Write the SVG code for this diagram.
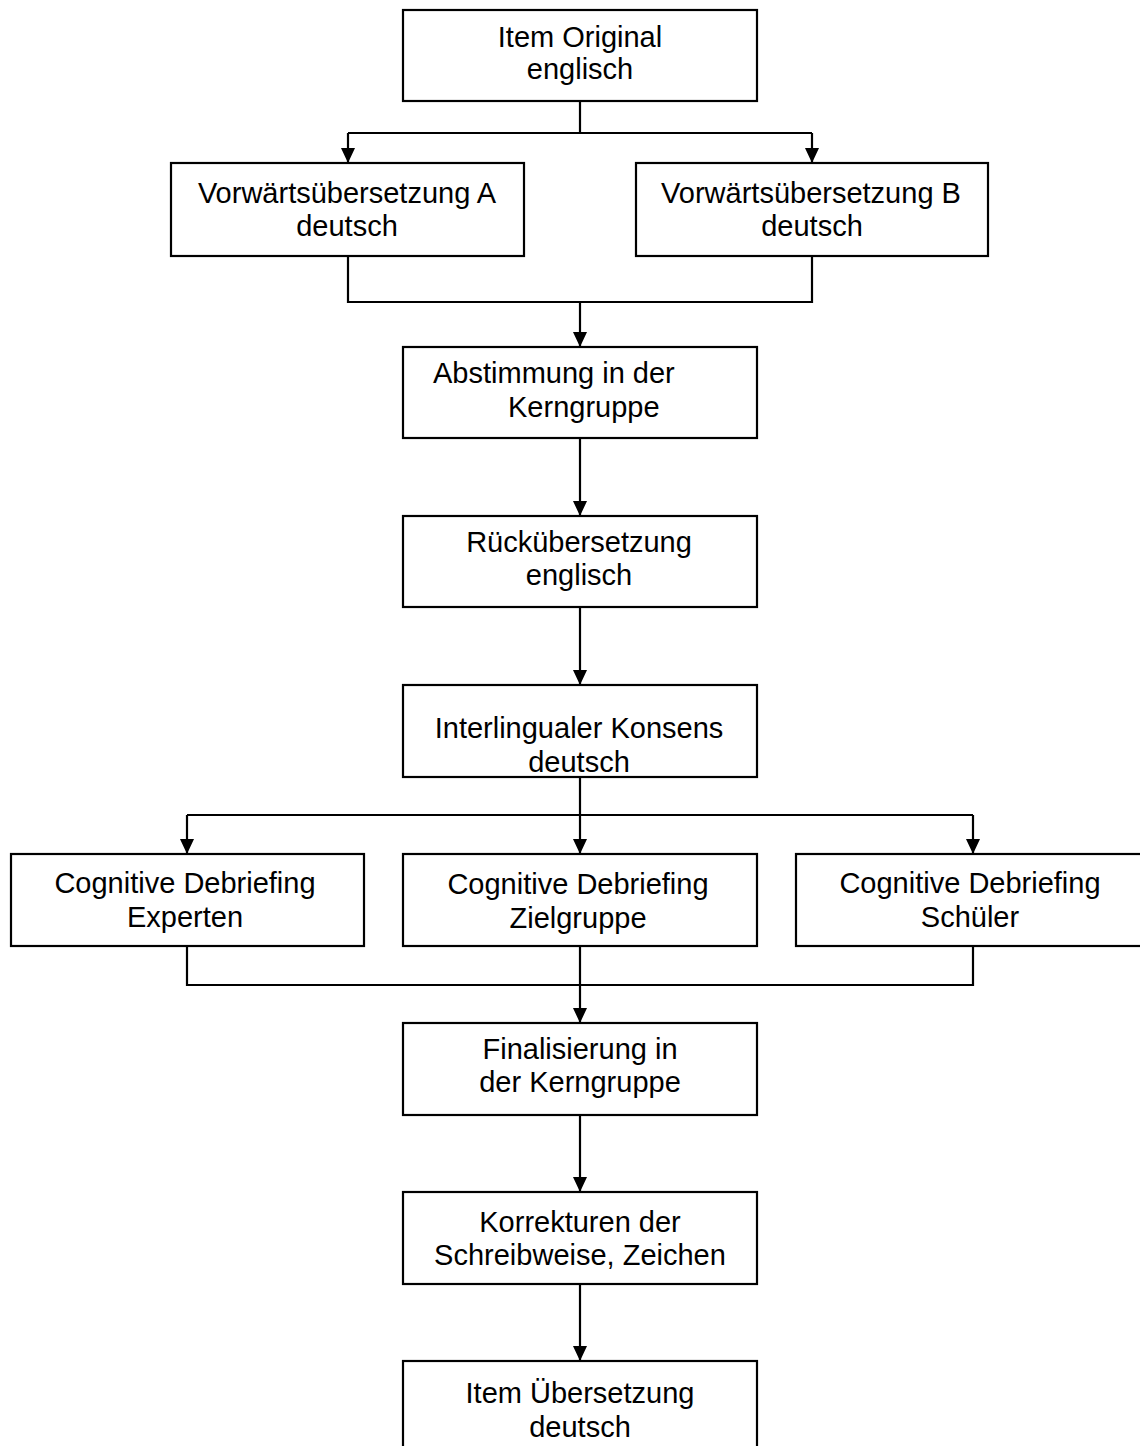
<svg xmlns="http://www.w3.org/2000/svg" width="1140" height="1446" viewBox="0 0 1140 1446">
<style>
.box{fill:#fff;stroke:#000;stroke-width:2.2}
.t{font-family:"Liberation Sans",Arial,sans-serif;font-size:29px;fill:#000;text-anchor:middle}
.ts{text-anchor:start}
.c{fill:none;stroke:#000;stroke-width:2.2}
.a{marker-end:url(#arr)}
</style>
<defs>
<marker id="arr" markerUnits="userSpaceOnUse" markerWidth="16" markerHeight="16" refX="15" refY="7" orient="auto">
<path d="M0,0 L15,7 L0,14 z" fill="#000"/>
</marker>
</defs>
<rect width="1140" height="1446" fill="#fff"/>
<g id="connectors">
<path class="c" d="M580,101 V133 M348,133 H812"/>
<path class="c a" d="M348,133 V163"/>
<path class="c a" d="M812,133 V163"/>
<path class="c" d="M348,256 V302 H812 V256"/>
<path class="c a" d="M580,302 V347"/>
<path class="c a" d="M580,438 V516"/>
<path class="c a" d="M580,607 V685"/>
<path class="c" d="M580,777 V815 M187,815 H973"/>
<path class="c a" d="M187,815 V854"/>
<path class="c a" d="M580,815 V854"/>
<path class="c a" d="M973,815 V854"/>
<path class="c" d="M187,946 V985 H973 V946 M580,946 V985"/>
<path class="c a" d="M580,985 V1023"/>
<path class="c a" d="M580,1115 V1192"/>
<path class="c a" d="M580,1284 V1361"/>
</g>
<g id="item-original">
<rect class="box" x="403" y="10" width="354" height="91"/>
<text class="t" x="580" y="47">Item Original</text>
<text class="t" x="580" y="79">englisch</text>
</g>
<g id="vorwaerts-a">
<rect class="box" x="171" y="163" width="353" height="93"/>
<text class="t" x="347" y="203">Vorwärtsübersetzung A</text>
<text class="t" x="347" y="236">deutsch</text>
</g>
<g id="vorwaerts-b">
<rect class="box" x="636" y="163" width="352" height="93"/>
<text class="t" x="811" y="203">Vorwärtsübersetzung B</text>
<text class="t" x="812" y="236">deutsch</text>
</g>
<g id="abstimmung">
<rect class="box" x="403" y="347" width="354" height="91"/>
<text class="t ts" x="433" y="383">Abstimmung in der</text>
<text class="t ts" x="508" y="417">Kerngruppe</text>
</g>
<g id="rueckuebersetzung">
<rect class="box" x="403" y="516" width="354" height="91"/>
<text class="t" x="579" y="552">Rückübersetzung</text>
<text class="t" x="579" y="585">englisch</text>
</g>
<g id="interlingual">
<rect class="box" x="403" y="685" width="354" height="92"/>
<text class="t" x="579" y="738">Interlingualer Konsens</text>
<text class="t" x="579" y="772">deutsch</text>
</g>
<g id="cd-experten">
<rect class="box" x="11" y="854" width="353" height="92"/>
<text class="t" x="185" y="893">Cognitive Debriefing</text>
<text class="t" x="185" y="927">Experten</text>
</g>
<g id="cd-zielgruppe">
<rect class="box" x="403" y="854" width="354" height="92"/>
<text class="t" x="578" y="894">Cognitive Debriefing</text>
<text class="t" x="578" y="928">Zielgruppe</text>
</g>
<g id="cd-schueler">
<rect class="box" x="796" y="854" width="354" height="92"/>
<text class="t" x="970" y="893">Cognitive Debriefing</text>
<text class="t" x="970" y="927">Schüler</text>
</g>
<g id="finalisierung">
<rect class="box" x="403" y="1023" width="354" height="92"/>
<text class="t" x="580" y="1059">Finalisierung in</text>
<text class="t" x="580" y="1092">der Kerngruppe</text>
</g>
<g id="korrekturen">
<rect class="box" x="403" y="1192" width="354" height="92"/>
<text class="t" x="580" y="1232">Korrekturen der</text>
<text class="t" x="580" y="1265">Schreibweise, Zeichen</text>
</g>
<g id="item-uebersetzung">
<rect class="box" x="403" y="1361" width="354" height="100"/>
<text class="t" x="580" y="1403">Item Übersetzung</text>
<text class="t" x="580" y="1437">deutsch</text>
</g>
</svg>
